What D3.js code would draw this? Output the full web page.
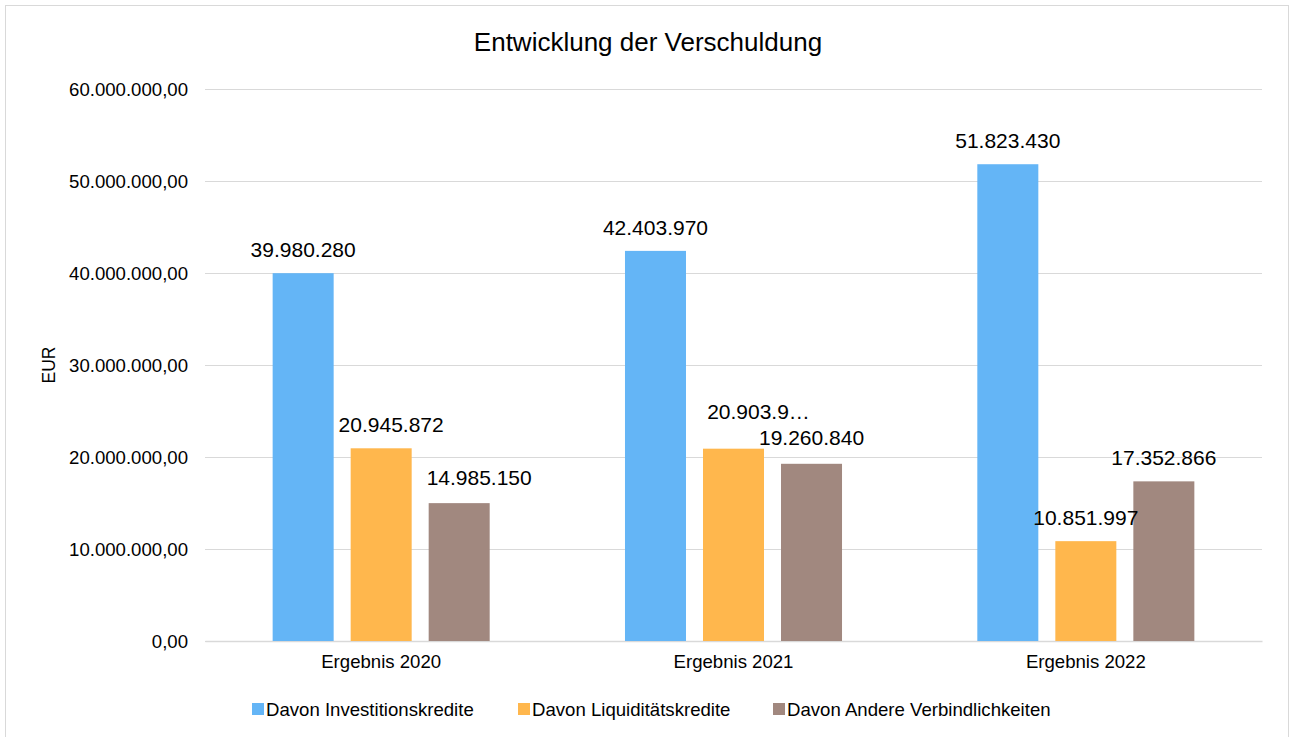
<!DOCTYPE html>
<html lang="de">
<head>
<meta charset="utf-8">
<title>Entwicklung der Verschuldung</title>
<script src="https://cdn.jsdelivr.net/npm/d3@7"></script>
<style>
  html, body { margin: 0; padding: 0; background: #ffffff; }
  svg { display: block; font-family: "Liberation Sans", Arial, sans-serif; }
</style>
</head>
<body>
<svg id="chart" width="1290" height="737"></svg>
<script>
// Jahre (Kategorien) und Reihen
const years = ["Ergebnis 2020", "Ergebnis 2021", "Ergebnis 2022"];
const seriesNames = ["Davon Investitionskredite", "Davon Liquiditätskredite", "Davon Andere Verbindlichkeiten"];
const seriesColors = ["#64B5F6", "#FFB74D", "#A1887F"];

// Werte je Reihe in EUR (Reihenfolge wie years)
const investitionskredite = [39980280, 42403970, 51823430];
const liquiditaetskredite = [20945872, 20903900, 10851997];
const andereVerbindlichkeiten = [14985150, 19260840, 17352866];
const seriesValues = [investitionskredite, liquiditaetskredite, andereVerbindlichkeiten];

// Achsenticks
const yTicks = [0, 10000000, 20000000, 30000000, 40000000, 50000000, 60000000];

// Datenbeschriftungen, die abgeschnitten dargestellt werden (Jahr, Reihe, sichtbare Zeichen)
const truncatedLabels = [{ year: 1, series: 1, chars: 8 }];

// Verschiebung einzelner Datenbeschriftungen, damit sie sich nicht überlappen
const labelShift = [
  { year: 0, series: 1, dx: 10, dy: 0 },
  { year: 0, series: 2, dx: 20, dy: -2 },
  { year: 1, series: 1, dx: 25, dy: -14 },
  { year: 1, series: 2, dx: 0, dy: -3 }
];

const de = d3.formatLocale({ decimal: ",", thousands: ".", grouping: [3], currency: ["", " €"] });
const fmtAxis = de.format(",.2f");
const fmtLabel = de.format(",d");

const svg = d3.select("#chart");

// Rahmen des Diagrammbereichs
svg.append("rect")
  .attr("x", 5.5).attr("y", 5.5)
  .attr("width", 1283).attr("height", 740)
  .attr("fill", "#ffffff")
  .attr("stroke", "#d9d9d9").attr("stroke-width", 1);

const plot = { left: 205, right: 1262, top: 89, bottom: 641 };

const x0 = d3.scaleBand().domain(d3.range(years.length)).range([plot.left, plot.right]).padding(0);
const groupGap = x0.bandwidth() * 0.192;
const x1 = d3.scaleBand().domain(d3.range(seriesNames.length))
  .range([groupGap, x0.bandwidth() - groupGap])
  .paddingInner(0.218).paddingOuter(0);
const y = d3.scaleLinear().domain([0, 60000000]).range([plot.bottom, plot.top]);

// Gitternetz und Beschriftung der Größenachse
const yAxis = d3.axisLeft(y)
  .tickValues(yTicks)
  .tickFormat(fmtAxis)
  .tickSize(-(plot.right - plot.left))
  .tickPadding(17);

const gy = svg.append("g")
  .attr("transform", `translate(${plot.left},0)`)
  .call(yAxis);
gy.select(".domain").remove();
gy.selectAll(".tick line").attr("stroke", "#d9d9d9").attr("stroke-width", 1.2);
gy.selectAll(".tick text")
  .attr("fill", "#000")
  .style("font-size", "18.6px")
  .attr("dy", "0.35em");

// Rubrikenachse
const xAxis = d3.axisBottom(x0).tickFormat(i => years[i]).tickSize(0).tickPadding(14);
const gx = svg.append("g")
  .attr("transform", `translate(0,${plot.bottom})`)
  .call(xAxis);
gx.select(".domain").attr("stroke", "#d9d9d9").attr("stroke-width", 1.5);
gx.selectAll(".tick text")
  .attr("fill", "#000")
  .style("font-size", "18.6px");

// Säulen
const cells = [];
years.forEach((yr, i) => {
  seriesValues.forEach((vals, s) => {
    cells.push({ year: i, series: s, value: vals[i] });
  });
});

svg.append("g").selectAll("rect")
  .data(cells)
  .join("rect")
  .attr("x", d => x0(d.year) + x1(d.series))
  .attr("y", d => y(d.value))
  .attr("width", x1.bandwidth())
  .attr("height", d => y(0) - y(d.value))
  .attr("fill", d => seriesColors[d.series]);

// Datenbeschriftungen
function labelText(d) {
  const t = fmtLabel(d.value);
  const cut = truncatedLabels.find(c => c.year === d.year && c.series === d.series);
  return cut ? t.slice(0, cut.chars) + "…" : t;
}
function shiftOf(d) {
  return labelShift.find(c => c.year === d.year && c.series === d.series) || { dx: 0, dy: 0 };
}

svg.append("g").selectAll("text")
  .data(cells)
  .join("text")
  .attr("x", d => x0(d.year) + x1(d.series) + x1.bandwidth() / 2 + shiftOf(d).dx)
  .attr("y", d => y(d.value) - 16 + shiftOf(d).dy)
  .attr("text-anchor", "middle")
  .attr("fill", "#000")
  .style("font-size", "21px")
  .text(labelText);

// Titel
svg.append("text")
  .attr("x", 648).attr("y", 51)
  .attr("text-anchor", "middle")
  .attr("fill", "#000")
  .style("font-size", "26px")
  .text("Entwicklung der Verschuldung");

// Achsentitel
svg.append("text")
  .attr("transform", "translate(55,365) rotate(-90)")
  .attr("text-anchor", "middle")
  .attr("fill", "#000")
  .style("font-size", "17.5px")
  .text("EUR");

// Legende
const legendX = [252, 518, 773];
const legend = svg.append("g").selectAll("g")
  .data(seriesNames)
  .join("g")
  .attr("transform", (d, i) => `translate(${legendX[i]},703)`);
legend.append("rect")
  .attr("width", 12).attr("height", 12)
  .attr("fill", (d, i) => seriesColors[i]);
legend.append("text")
  .attr("x", 14).attr("y", 13)
  .attr("fill", "#000")
  .style("font-size", "18.6px")
  .text(d => d);
</script>
</body>
</html>
